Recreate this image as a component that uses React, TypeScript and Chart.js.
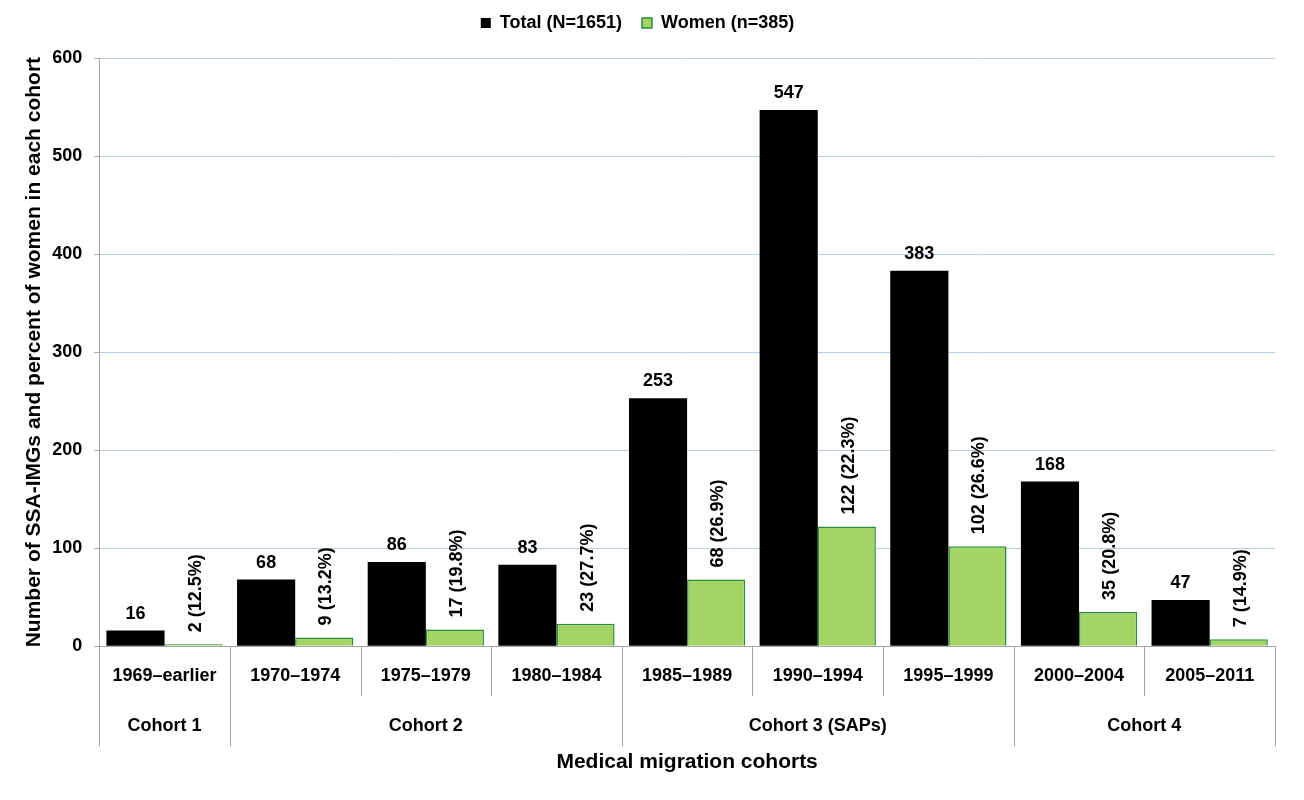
import React, { useEffect, useRef } from 'react';
import { Chart, registerables } from 'chart.js';

Chart.register(...registerables);

const periods = ['1969–earlier', '1970–1974', '1975–1979', '1980–1984', '1985–1989', '1990–1994', '1995–1999', '2000–2004', '2005–2011'];
const totalValues = [16, 68, 86, 83, 253, 547, 383, 168, 47];
const womenValues = [2, 9, 17, 23, 68, 122, 102, 35, 7];
const womenPercentLabels = ['12.5%', '13.2%', '19.8%', '27.7%', '26.9%', '22.3%', '26.6%', '20.8%', '14.9%'];
const cohortNames = ['Cohort 1', 'Cohort 2', 'Cohort 3 (SAPs)', 'Cohort 4'];
const cohortStart = [0, 1, 4, 7];
const cohortEnd = [0, 3, 6, 8];
const yMax = 600;
const yStep = 100;

const LABEL_FONT = '"Liberation Sans", Arial, Helvetica, sans-serif';
const AXIS_GREY = '#a6a6a6';

const barLabels = {
  id: 'barLabels',
  afterDatasetsDraw(chart: any) {
    const ctx = chart.ctx;
    ctx.save();
    ctx.font = `bold 18px ${LABEL_FONT}`;
    ctx.fillStyle = '#000';
    chart.getDatasetMeta(0).data.forEach((bar: any, i: number) => {
      ctx.textAlign = 'center';
      ctx.textBaseline = 'alphabetic';
      ctx.fillText(String(totalValues[i]), bar.x, bar.y - 12);
    });
    chart.getDatasetMeta(1).data.forEach((bar: any, i: number) => {
      ctx.save();
      ctx.translate(bar.x + 2, bar.y - 12);
      ctx.rotate(-Math.PI / 2);
      ctx.textAlign = 'left';
      ctx.textBaseline = 'middle';
      ctx.fillText(`${womenValues[i]} (${womenPercentLabels[i]})`, 0, 0);
      ctx.restore();
    });
    ctx.restore();
  },
};

const cohortAxis = {
  id: 'cohortAxis',
  afterDraw(chart: any) {
    const ctx = chart.ctx;
    const x = chart.scales.x;
    const bottom = chart.chartArea.bottom;
    const n = periods.length;
    const boundary = (k: number) =>
      k === 0 ? x.left : k === n ? x.right : (x.getPixelForValue(k - 1) + x.getPixelForValue(k)) / 2;
    ctx.save();
    ctx.strokeStyle = AXIS_GREY;
    ctx.lineWidth = 1;
    for (let k = 0; k <= n; k++) {
      const isGroup = cohortStart.includes(k) || k === n;
      const px = Math.round(boundary(k)) + 0.5;
      ctx.beginPath();
      ctx.moveTo(px, bottom);
      ctx.lineTo(px, bottom + (isGroup ? 100 : 50));
      ctx.stroke();
    }
    ctx.font = `bold 18px ${LABEL_FONT}`;
    ctx.fillStyle = '#000';
    ctx.textAlign = 'center';
    ctx.textBaseline = 'middle';
    cohortNames.forEach((name, g) => {
      const cx = (boundary(cohortStart[g]) + boundary(cohortEnd[g] + 1)) / 2;
      ctx.fillText(name, cx, bottom + 80);
    });
    ctx.restore();
  },
};

const legendSpacing = {
  id: 'legendSpacing',
  beforeInit(chart: any) {
    const legend = chart.legend;
    if (!legend) return;
    const origFit = legend.fit;
    legend.fit = function () {
      origFit.call(this);
      this.height += 16;
    };
  },
};

export default function App() {
  const canvasRef = useRef<HTMLCanvasElement | null>(null);

  useEffect(() => {
    document.body.style.margin = '0';
    const canvas = canvasRef.current;
    if (!canvas) return;
    const chart = new Chart(canvas, {
      type: 'bar',
      data: {
        labels: periods,
        datasets: [
          {
            label: 'Total (N=1651)',
            data: totalValues,
            backgroundColor: '#000000',
            borderColor: '#000000',
            borderWidth: 0,
            categoryPercentage: 0.89,
            barPercentage: 1.0,
          },
          {
            label: 'Women (n=385)',
            data: womenValues,
            backgroundColor: '#a2d564',
            borderColor: '#2e8b3e',
            borderWidth: 1.5,
            categoryPercentage: 0.89,
            barPercentage: 1.0,
          },
        ],
      },
      options: {
        responsive: true,
        maintainAspectRatio: false,
        animation: false,
        layout: { padding: { top: -6, right: 29, bottom: 25, left: 0 } },
        plugins: {
          tooltip: { enabled: false },
          legend: {
            position: 'top',
            labels: {
              boxWidth: 10,
              boxHeight: 10,
              padding: 20,
              color: '#000',
              font: { family: LABEL_FONT, size: 18, weight: 'bold' },
            },
          },
        },
        scales: {
          x: {
            grid: { drawOnChartArea: false, drawTicks: false, color: AXIS_GREY },
            border: { display: true, color: AXIS_GREY, width: 1 },
            ticks: {
              color: '#000',
              padding: 19,
              maxRotation: 0,
              autoSkip: false,
              font: { family: LABEL_FONT, size: 18, weight: 'bold' },
            },
            title: {
              display: true,
              text: 'Medical migration cohorts',
              color: '#000',
              padding: { top: 44, bottom: 0 },
              font: { family: LABEL_FONT, size: 21, weight: 'bold' },
            },
          },
          y: {
            min: 0,
            max: yMax,
            grid: { color: '#b9cde5', tickColor: AXIS_GREY, tickLength: 5, lineWidth: 1 },
            border: { display: true, color: AXIS_GREY, width: 1 },
            ticks: {
              stepSize: yStep,
              color: '#000',
              padding: 12,
              font: { family: LABEL_FONT, size: 18, weight: 'bold' },
            },
            title: {
              display: true,
              text: 'Number of SSA-IMGs and percent of women in each cohort',
              color: '#000',
              padding: { top: 22, bottom: -7 },
              font: { family: LABEL_FONT, size: 21, weight: 'bold' },
            },
          },
        },
      },
      plugins: [barLabels, cohortAxis, legendSpacing],
    });
    return () => chart.destroy();
  }, []);

  return (
    <div style={{ width: '1304px', height: '800px', position: 'relative' }}>
      <canvas ref={canvasRef} />
    </div>
  );
}
